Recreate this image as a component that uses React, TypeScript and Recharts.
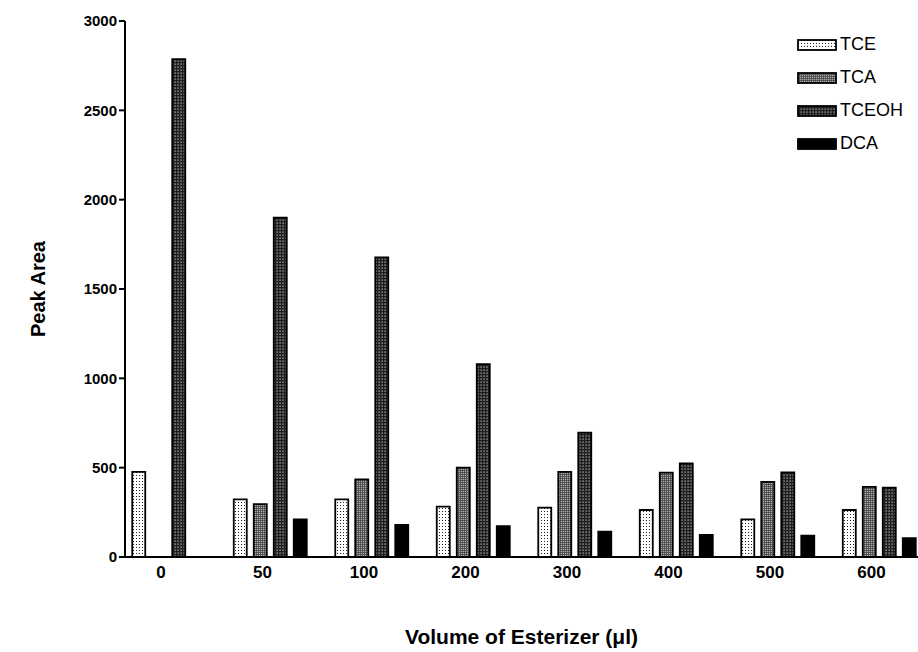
import { BarChart, Bar, XAxis, YAxis, Legend, Label } from "recharts";

// Volume of esterizer (µl) per group
const volumes = ["0", "50", "100", "200", "300", "400", "500", "600"];

// Peak areas
const tce = [476, 323, 323, 282, 276, 263, 211, 263];
const tca = [null, 296, 435, 500, 477, 472, 420, 392];
const tceoh = [2787, 1899, 1677, 1080, 696, 524, 474, 388];
const dca = [null, 211, 179, 173, 142, 123, 119, 105];

const seriesOrder = ["TCE", "TCA", "TCEOH", "DCA"];
const yTicks = [0, 500, 1000, 1500, 2000, 2500, 3000];
const xTicks = volumes.map((_, i) => i);

const data = volumes.map((v, i) => ({
  idx: i,
  volume: v,
  TCE: tce[i],
  TCA: tca[i],
  TCEOH: tceoh[i],
  DCA: dca[i],
}));

const font = "'Liberation Sans', Arial, Helvetica, sans-serif";

function XTick(props: any) {
  const { x, y, payload } = props;
  return (
    <text
      x={x - 8}
      y={y}
      dy={13}
      textAnchor="middle"
      fontFamily={font}
      fontWeight="bold"
      fontSize={17}
      fill="#000"
    >
      {volumes[payload.value]}
    </text>
  );
}

function LegendBox(props: any) {
  const items = [...(props.payload || [])].sort(
    (a: any, b: any) => seriesOrder.indexOf(a.value) - seriesOrder.indexOf(b.value)
  );
  return (
    <div style={{ fontFamily: font }}>
      {items.map((p: any) => (
        <div
          key={p.value}
          style={{ display: "flex", alignItems: "center", height: 33 }}
        >
          <svg width={40} height={12} style={{ display: "block" }}>
            <rect
              x={1}
              y={1}
              width={38}
              height={10}
              fill={p.color}
              stroke="#000"
              strokeWidth={1.8}
            />
          </svg>
          <span style={{ marginLeft: 3, fontSize: 18, color: "#000" }}>
            {p.value}
          </span>
        </div>
      ))}
    </div>
  );
}

export default function App() {
  return (
    <div
      style={{
        position: "absolute",
        left: 0,
        top: 0,
        width: 918,
        height: 652,
        overflow: "hidden",
        background: "#fff",
      }}
    >
      <BarChart
        width={918}
        height={652}
        data={data}
        margin={{ top: 21, right: 0, left: 65, bottom: 65 }}
        barSize={13}
        barGap={7}
      >
        <defs>
          <pattern id="patTCE" width={3} height={3} patternUnits="userSpaceOnUse">
            <rect width={3} height={3} fill="#fff" />
            <rect x={1} y={1} width={1} height={1} fill="#222" />
          </pattern>
          <pattern id="patTCA" width={2} height={2} patternUnits="userSpaceOnUse">
            <rect width={2} height={2} fill="#b0b0b0" />
            <rect width={2} height={0.8} fill="#444" />
            <rect width={0.8} height={2} fill="#444" />
          </pattern>
          <pattern id="patTCEOH" width={3} height={3} patternUnits="userSpaceOnUse">
            <rect width={3} height={3} fill="#1e1e1e" />
            <rect x={0.5} y={0.5} width={1.2} height={1.2} fill="#c8c8c8" />
          </pattern>
        </defs>
        <XAxis
          dataKey="idx"
          type="number"
          domain={[-0.4335, 7.379]}
          ticks={xTicks}
          interval={0}
          allowDataOverflow
          height={30}
          tick={<XTick />}
          tickLine={false}
          axisLine={{ stroke: "#000", strokeWidth: 2 }}
        >
          <Label
            value="Volume of Esterizer (μl)"
            position="bottom"
            offset={42}
            style={{
              fontFamily: font,
              fontWeight: "bold",
              fontSize: 21,
              fill: "#000",
            }}
          />
        </XAxis>
        <YAxis
          domain={[0, 3000]}
          ticks={yTicks}
          interval={0}
          width={60}
          tickSize={6}
          tick={{
            fontFamily: font,
            fontWeight: "bold",
            fontSize: 15,
            fill: "#000",
          }}
          tickLine={{ stroke: "#000", strokeWidth: 2 }}
          axisLine={{ stroke: "#000", strokeWidth: 2 }}
        >
          <Label
            content={(p: any) => {
              const vb = p.viewBox;
              const cx = vb.x - 27;
              const cy = vb.y + vb.height / 2;
              return (
                <text
                  x={cx}
                  y={cy}
                  transform={`rotate(-90, ${cx}, ${cy})`}
                  textAnchor="middle"
                  dominantBaseline="central"
                  fontFamily={font}
                  fontWeight="bold"
                  fontSize={20}
                  fill="#000"
                >
                  Peak Area
                </text>
              );
            }}
          />
        </YAxis>
        <Legend
          layout="vertical"
          verticalAlign="middle"
          align="center"
          content={<LegendBox />}
          wrapperStyle={{ top: 28, left: 797, right: "auto", bottom: "auto", width: 120 }}
        />
        <Bar dataKey="TCE" fill="url(#patTCE)" stroke="#000" strokeWidth={1.8} isAnimationActive={false} />
        <Bar dataKey="TCA" fill="url(#patTCA)" stroke="#000" strokeWidth={1.8} isAnimationActive={false} />
        <Bar dataKey="TCEOH" fill="url(#patTCEOH)" stroke="#000" strokeWidth={1.8} isAnimationActive={false} />
        <Bar dataKey="DCA" fill="#000" stroke="#000" strokeWidth={1.8} isAnimationActive={false} />
      </BarChart>
    </div>
  );
}
